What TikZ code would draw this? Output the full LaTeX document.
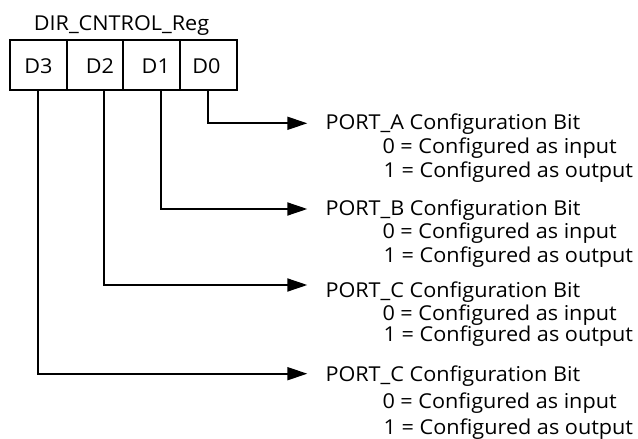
\documentclass[tikz,border=0pt]{standalone}
\usepackage{fontspec}
\setmainfont{Open Sans}[FakeStretch=1.055]
\usetikzlibrary{arrows.meta}
\begin{document}
\begin{tikzpicture}[x=1pt,y=-1pt,
  font=\fontsize{20.5pt}{24pt}\selectfont,
  cell/.style={draw,line width=1.8pt,minimum height=50pt,inner sep=0pt},
  celltext/.style={inner sep=0pt},
  txt/.style={anchor=base west,inner sep=0pt},
  conn/.style={line width=1.8pt,-{Triangle[length=20pt,width=13pt]}}]
\useasboundingbox (0,0) rectangle (638,439);

% register title and bit cells
\node[anchor=base,inner sep=0pt] (title) at (121.5,30.7) {DIR\_CNTROL\_Reg};
\node[cell,minimum width=57pt] (d3) at (38.5,65) {};
\node[cell,minimum width=56pt] (d2) at (95,65) {};
\node[cell,minimum width=57pt] (d1) at (151.5,65) {};
\node[cell,minimum width=57pt] (d0) at (208.5,65) {};
\node[celltext] (l3) at (38.5,65.7) {D3};
\node[celltext] (l2) at (100,65.7) {D2};
\node[celltext] (l1) at (155.8,65.7) {D1};
\node[celltext] (l0) at (206.5,65.7) {D0};

% descriptions of each bit
\node[txt] (pa)  at (325.3,129.3) {PORT\_A Configuration Bit};
\node[txt] (pa0) at (382.3,153.3) {0 = Configured as input};
\node[txt] (pa1) at (383.5,177.3) {1 = Configured as output};
\node[txt] (pb)  at (325.3,215)   {PORT\_B Configuration Bit};
\node[txt] (pb0) at (382.3,238.3) {0 = Configured as input};
\node[txt] (pb1) at (383.5,262)   {1 = Configured as output};
\node[txt] (pc)  at (325.3,297.7) {PORT\_C Configuration Bit};
\node[txt] (pc0) at (382.3,320)   {0 = Configured as input};
\node[txt] (pc1) at (383.5,341.7) {1 = Configured as output};
\node[txt] (pd)  at (325.3,381.7) {PORT\_C Configuration Bit};
\node[txt] (pd0) at (382.3,408.3) {0 = Configured as input};
\node[txt] (pd1) at (383.5,434)   {1 = Configured as output};

% tap points under the cells and arrow tips
\coordinate (s0) at (207.7,90);
\coordinate (s1) at (161,90);
\coordinate (s2) at (104.3,90);
\coordinate (s3) at (38.3,90);
\coordinate (t0) at (307.3,123.3);
\coordinate (t1) at (307.3,209);
\coordinate (t2) at (307.3,285);
\coordinate (t3) at (307.3,373.7);

\draw[conn] (s0) |- (t0);
\draw[conn] (s1) |- (t1);
\draw[conn] (s2) |- (t2);
\draw[conn] (s3) |- (t3);
\end{tikzpicture}
\end{document}
